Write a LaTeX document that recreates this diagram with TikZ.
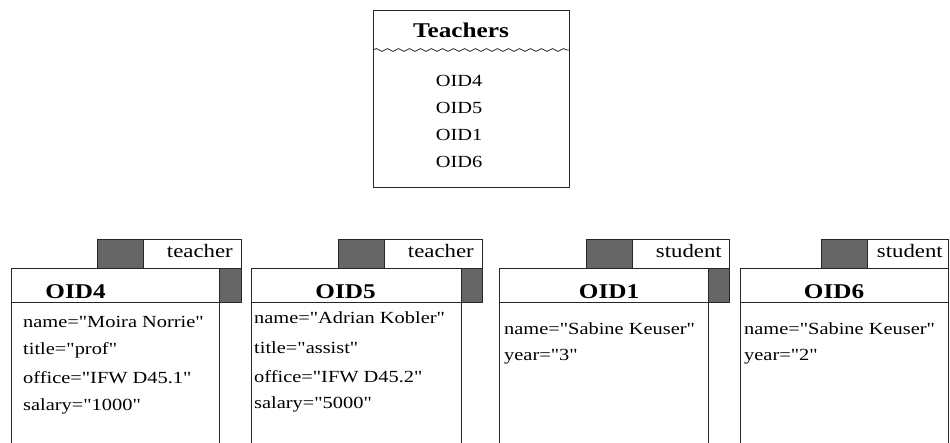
\documentclass[tikz,border=0pt]{standalone}
\usepackage{fontspec}
\setmainfont{Liberation Serif}[FakeStretch=1.2, Ligatures=TeXOff]
\usetikzlibrary{decorations.pathmorphing}
\definecolor{tabgray}{RGB}{102,102,102}
\tikzset{
  frame/.style={draw=black!85, line width=0.8pt},
  tab/.style={frame, fill=tabgray},
  attr/.style={anchor=base west, inner sep=0pt, font=\fontsize{17}{20}\selectfont},
  member/.style={anchor=base, inner sep=0pt, font=\fontsize{17}{20}\selectfont},
  oid/.style={anchor=base, inner sep=0pt, font=\fontsize{21}{24}\selectfont\bfseries},
  kind/.style={anchor=base east, inner sep=0pt, font=\fontsize{19}{22}\selectfont}
}
\begin{document}
\begin{tikzpicture}[x=1pt, y=-1pt]
  \useasboundingbox (0,0) rectangle (950,442);
  \clip (0,0) rectangle (950,442);
  % collection Teachers
  \draw[frame] (373,10) rectangle (569,187);
  \node (coll) at (461,37) [oid] {Teachers};
  \draw[frame, decorate, decoration={snake, segment length=11pt, amplitude=1.4pt}] (373,50) -- (569,50);
  \node (m4) at (459,86) [member] {OID4};
  \node (m5) at (459,113) [member] {OID5};
  \node (m1) at (459,140) [member] {OID1};
  \node (m6) at (459,167) [member] {OID6};
  % object OID4
  \draw[frame] (11,460) |- (219,268) -- (219,460) (11,302) -- (219,302);
  \draw[tab] (219,268) rectangle (241,302);
  \draw[tab] (97,239) rectangle (143,268);
  \draw[frame] (143,239) rectangle (241,268);
  \node (k4) at (233,257) [kind] {teacher};
  \node (o4) at (75.5,298) [oid] {OID4};
  \node (a4n) at (23,327) [attr] {name="Moira Norrie"};
  \node (a4t) at (23,354) [attr] {title="prof"};
  \node (a4o) at (23,383) [attr] {office="IFW D45.1"};
  \node (a4s) at (23,410) [attr] {salary="1000"};
  % object OID5
  \draw[frame] (251,460) |- (461,268) -- (461,460) (251,302) -- (461,302);
  \draw[tab] (461,268) rectangle (482,302);
  \draw[tab] (338,239) rectangle (384,268);
  \draw[frame] (384,239) rectangle (482,268);
  \node (k5) at (474,257) [kind] {teacher};
  \node (o5) at (345.5,298) [oid] {OID5};
  \node (a5n) at (254,323) [attr] {name="Adrian Kobler"};
  \node (a5t) at (254,353) [attr] {title="assist"};
  \node (a5o) at (254,382) [attr] {office="IFW D45.2"};
  \node (a5s) at (254,408) [attr] {salary="5000"};
  % object OID1
  \draw[frame] (499,460) |- (708,268) -- (708,460) (499,302) -- (708,302);
  \draw[tab] (708,268) rectangle (729,302);
  \draw[tab] (586,239) rectangle (632,268);
  \draw[frame] (632,239) rectangle (729,268);
  \node (k1) at (722,257) [kind] {student};
  \node (o1) at (609,298) [oid] {OID1};
  \node (a1n) at (504,334) [attr] {name="Sabine Keuser"};
  \node (a1y) at (504,360) [attr] {year="3"};
  % object OID6
  \draw[frame] (740,460) |- (948,268) -- (948,460) (740,302) -- (948,302);
  \draw[tab] (821,239) rectangle (867,268);
  \draw[frame] (867,239) rectangle (948,268);
  \node (k6) at (943,257) [kind] {student};
  \node (o6) at (834,298) [oid] {OID6};
  \node (a6n) at (744,334) [attr] {name="Sabine Keuser"};
  \node (a6y) at (744,360) [attr] {year="2"};
\end{tikzpicture}
\end{document}
